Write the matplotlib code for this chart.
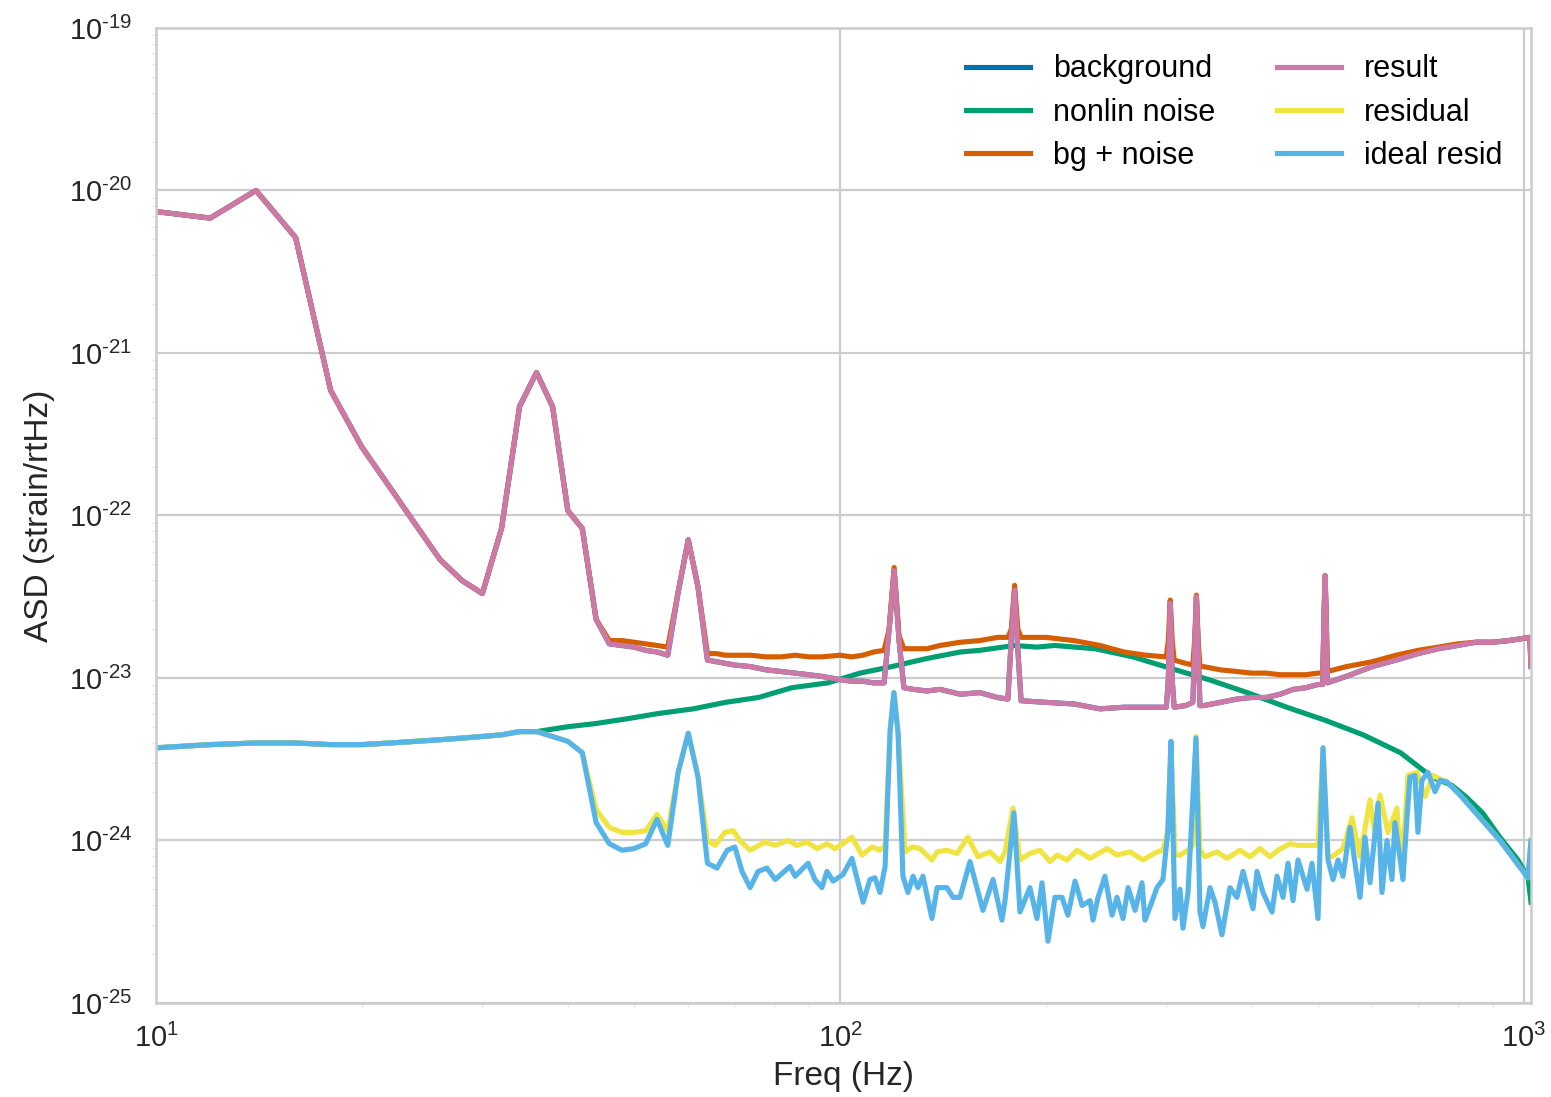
import numpy as np
import matplotlib
matplotlib.use("Agg")
import matplotlib.pyplot as plt
from matplotlib.ticker import FuncFormatter, NullFormatter, FixedLocator

plt.rcParams["font.family"] = ["Liberation Sans", "DejaVu Sans"]
plt.rcParams["axes.unicode_minus"] = False
plt.rcParams["mathtext.fontset"] = "custom"
plt.rcParams["mathtext.rm"] = "Liberation Sans"

# ASD values are stored as log10(strain/rtHz)
f_main = [10, 12, 14, 16, 18, 20, 22, 24, 26, 28,
          30, 32, 34, 36, 38, 40, 42, 44, 46, 48,
          50, 52, 54, 56, 58, 60, 62, 64, 66, 68,
          70, 74, 78, 82, 86, 90, 94, 100, 104, 108,
          112, 116, 118, 120, 122, 124, 128, 134, 140, 150,
          160, 170, 176, 178, 180, 182, 184, 200, 220, 240,
          260, 280, 300, 302, 304, 306, 308, 320, 328, 330,
          332, 334, 336, 340, 360, 380, 400, 420, 440, 460,
          480, 500, 508, 510, 512, 514, 516, 550, 600, 650,
          700, 750, 800, 850, 900, 950, 1020, 1024]

background_log = [-20.13, -20.17, -20.00, -20.29, -21.23, -21.58, -21.83, -22.06, -22.27, -22.40,
                  -22.48, -22.08, -21.33, -21.12, -21.33, -21.97, -22.08, -22.64, -22.79, -22.80,
                  -22.81, -22.83, -22.84, -22.86, -22.47, -22.15, -22.44, -22.89, -22.90, -22.91,
                  -22.92, -22.93, -22.95, -22.96, -22.97, -22.98, -22.99, -23.01, -23.02, -23.02,
                  -23.03, -23.03, -22.70, -22.34, -22.77, -23.06, -23.07, -23.08, -23.07, -23.10,
                  -23.09, -23.12, -23.13, -22.76, -22.46, -22.83, -23.14, -23.15, -23.16, -23.19,
                  -23.18, -23.18, -23.18, -23.01, -22.54, -23.01, -23.18, -23.17, -23.15, -22.83,
                  -22.50, -22.83, -23.17, -23.17, -23.15, -23.13, -23.12, -23.12, -23.10, -23.07,
                  -23.06, -23.04, -23.04, -22.64, -22.37, -22.64, -23.03, -22.99, -22.93, -22.89,
                  -22.85, -22.82, -22.80, -22.78, -22.78, -22.77, -22.75, -22.93]

result_log = list(background_log)

bg_noise_log = [-20.13, -20.17, -20.00, -20.29, -21.23, -21.58, -21.83, -22.06, -22.27, -22.40,
                -22.48, -22.08, -21.33, -21.12, -21.33, -21.97, -22.08, -22.64, -22.77, -22.77,
                -22.78, -22.79, -22.80, -22.81, -22.47, -22.15, -22.44, -22.85, -22.85, -22.86,
                -22.86, -22.86, -22.87, -22.87, -22.86, -22.87, -22.87, -22.86, -22.87, -22.86,
                -22.84, -22.83, -22.70, -22.32, -22.74, -22.82, -22.82, -22.82, -22.80, -22.78,
                -22.77, -22.75, -22.75, -22.70, -22.43, -22.70, -22.75, -22.75, -22.77, -22.80,
                -22.84, -22.86, -22.87, -22.77, -22.52, -22.77, -22.89, -22.91, -22.92, -22.77,
                -22.49, -22.77, -22.93, -22.93, -22.95, -22.96, -22.97, -22.97, -22.98, -22.98,
                -22.98, -22.97, -22.97, -22.64, -22.37, -22.64, -22.96, -22.93, -22.90, -22.86,
                -22.83, -22.81, -22.79, -22.78, -22.78, -22.77, -22.75, -22.91]

f_noise = [10, 12, 14, 16, 18, 20, 22, 24, 26, 28,
           30, 32, 34, 36, 40, 44, 49, 54, 61, 68,
           76, 85, 96, 107, 119, 134, 150, 160, 180, 194,
           206, 236, 268, 304, 346, 394, 450, 512, 582, 660,
           734, 784, 822, 870, 922, 980, 1014, 1024]
noise_log = [-23.43, -23.41, -23.40, -23.40, -23.41, -23.41, -23.40, -23.39, -23.38, -23.37,
             -23.36, -23.35, -23.33, -23.33, -23.30, -23.28, -23.25, -23.22, -23.19, -23.15,
             -23.12, -23.06, -23.03, -22.97, -22.93, -22.88, -22.84, -22.83, -22.80, -22.81,
             -22.80, -22.82, -22.87, -22.94, -23.01, -23.09, -23.18, -23.26, -23.35, -23.46,
             -23.61, -23.66, -23.73, -23.83, -23.98, -24.12, -24.23, -24.38]

f_resid = [10, 12, 14, 16, 18, 20, 22, 24, 26, 28,
           30, 32, 34, 36, 38, 40, 42, 44, 46, 48,
           50, 52, 54, 56, 58, 60, 62, 64, 65.7, 67.9,
           69.8, 71.4, 73.9, 77.7, 80.4, 83.9, 86.5, 89.5, 92.6, 95.7,
           98.3, 101.0, 104.1, 107.7, 111.4, 114.4, 116.4, 118.4, 119.9, 121.6,
           124.5, 127.5, 130.9, 136.3, 138.7, 143.3, 148.3, 153.8, 159.1, 165.7,
           171.4, 174.3, 179.0, 183.3, 189.5, 196.0, 202.8, 207.7, 214.8, 222.1,
           232.1, 245.7, 254.1, 265.5, 277.3, 290.7, 296.6, 301.6, 304.7, 308.9,
           314.1, 322.7, 328.2, 331.5, 336.0, 341.7, 355.8, 368.0, 384.4, 397.6,
           411.2, 425.3, 437.0, 455.0, 467.4, 486.7, 499.9, 508.4, 517.0, 524.1,
           543.8, 560.5, 575.8, 595.6, 605.7, 615.9, 632.7, 652.1, 658.7, 669.9,
           676.7, 697.5, 716.6, 736.2, 761.5, 771.8, 806.3, 862.4, 922.4, 976.8,
           1013.5, 1024]
resid_log = [-23.43, -23.41, -23.40, -23.40, -23.41, -23.41, -23.40, -23.39, -23.38, -23.37,
             -23.36, -23.35, -23.33, -23.33, -23.36, -23.39, -23.46, -23.81, -23.92, -23.95,
             -23.95, -23.94, -23.84, -23.94, -23.58, -23.34, -23.60, -24.00, -24.03, -23.95,
             -23.94, -24.00, -24.06, -24.01, -24.03, -24.00, -24.03, -24.01, -24.05, -24.02,
             -24.05, -24.02, -23.98, -24.09, -24.04, -24.06, -24.03, -23.32, -23.09, -23.34,
             -24.07, -24.04, -24.05, -24.12, -24.07, -24.06, -24.08, -23.98, -24.10, -24.07,
             -24.13, -24.07, -23.80, -24.12, -24.08, -24.06, -24.13, -24.09, -24.12, -24.06,
             -24.11, -24.05, -24.09, -24.07, -24.12, -24.07, -24.06, -23.94, -23.39, -24.09,
             -24.09, -24.06, -24.03, -23.36, -24.06, -24.10, -24.07, -24.11, -24.06, -24.10,
             -24.05, -24.10, -24.06, -24.02, -24.03, -24.03, -24.03, -23.43, -24.10, -24.10,
             -24.05, -23.86, -24.10, -23.75, -23.97, -23.72, -23.95, -23.80, -24.09, -23.89,
             -23.60, -23.58, -23.73, -23.60, -23.63, -23.64, -23.72, -23.86, -24.00, -24.14,
             -24.23, -24.00]

f_ideal = [10, 12, 14, 16, 18, 20, 22, 24, 26, 28,
           30, 32, 34, 36, 38, 40, 42, 44, 46, 48,
           50, 52, 54, 56, 58, 60, 62, 64, 66.1, 68.4,
           70.2, 71.9, 73.9, 75.9, 78.2, 80.4, 84.5, 86.0, 89.8, 91.9,
           94.1, 95.7, 97.7, 101.0, 104.1, 108.1, 110.6, 112.5, 114.4, 116.4,
           118.4, 119.9, 121.6, 123.6, 125.7, 127.9, 130.0, 132.2, 136.3, 138.7,
           143.3, 146.3, 149.8, 154.9, 161.8, 167.4, 172.5, 174.3, 179.6, 183.3,
           189.5, 194.1, 197.4, 201.4, 206.2, 211.2, 215.4, 220.6, 225.9, 232.1,
           234.4, 238.4, 244.0, 249.9, 254.1, 259.3, 263.8, 270.0, 276.4, 279.2,
           283.9, 290.7, 296.6, 301.6, 304.7, 308.9, 314.1, 317.3, 322.7, 331.5,
           336.0, 339.4, 347.5, 353.4, 361.8, 371.7, 380.5, 388.3, 397.6, 401.7,
           407.1, 415.4, 428.2, 435.5, 444.4, 451.9, 459.6, 467.4, 481.8, 489.9,
           499.9, 508.4, 517.0, 525.9, 534.8, 543.8, 556.8, 566.2, 575.8, 585.6,
           595.6, 611.8, 620.1, 630.6, 641.2, 647.7, 665.4, 674.5, 681.3, 692.8,
           699.8, 709.4, 723.8, 741.2, 753.8, 771.8, 806.3, 862.4, 922.4, 976.8,
           1013.5, 1024]
ideal_log = [-23.43, -23.41, -23.40, -23.40, -23.41, -23.41, -23.40, -23.39, -23.38, -23.37,
             -23.36, -23.35, -23.33, -23.33, -23.36, -23.39, -23.46, -23.89, -24.02, -24.06,
             -24.05, -24.02, -23.87, -24.03, -23.58, -23.34, -23.61, -24.14, -24.17, -24.06,
             -24.04, -24.19, -24.29, -24.19, -24.17, -24.24, -24.16, -24.22, -24.14, -24.24,
             -24.29, -24.19, -24.25, -24.21, -24.11, -24.38, -24.24, -24.23, -24.32, -24.16,
             -23.32, -23.09, -23.34, -24.22, -24.32, -24.22, -24.29, -24.22, -24.48, -24.29,
             -24.29, -24.35, -24.35, -24.13, -24.43, -24.24, -24.49, -24.37, -23.83, -24.44,
             -24.29, -24.48, -24.26, -24.62, -24.35, -24.35, -24.46, -24.25, -24.40, -24.37,
             -24.49, -24.35, -24.22, -24.46, -24.35, -24.48, -24.29, -24.43, -24.26, -24.49,
             -24.41, -24.29, -24.24, -23.94, -23.39, -24.48, -24.30, -24.54, -24.32, -23.37,
             -24.44, -24.53, -24.29, -24.38, -24.58, -24.29, -24.35, -24.19, -24.35, -24.42,
             -24.19, -24.32, -24.44, -24.22, -24.35, -24.14, -24.37, -24.12, -24.30, -24.14,
             -24.48, -23.43, -24.12, -24.24, -24.12, -24.22, -23.92, -24.14, -24.35, -23.98,
             -24.26, -23.77, -24.32, -24.00, -24.24, -23.89, -24.24, -23.86, -23.61, -23.60,
             -23.95, -23.63, -23.58, -23.70, -23.63, -23.64, -23.72, -23.86, -24.00, -24.14,
             -24.23, -24.00]

x_ticks = [10, 100, 1000]
y_ticks = [1e-25, 1e-24, 1e-23, 1e-22, 1e-21, 1e-20, 1e-19]

colors = ["#0072B2", "#009E73", "#D55E00", "#CC79A7", "#F0E442", "#56B4E9"]
series = [
    ("background", f_main, background_log),
    ("nonlin noise", f_noise, noise_log),
    ("bg + noise", f_main, bg_noise_log),
    ("result", f_main, result_log),
    ("residual", f_resid, resid_log),
    ("ideal resid", f_ideal, ideal_log),
]

fig = plt.figure(figsize=(15.51, 10.97), dpi=100)
ax = fig.add_axes([0.1006, 0.0857, 0.8865, 0.8888])

for (label, f, vals), c in zip(series, colors):
    assert len(f) == len(vals), label
    ax.loglog(f, 10.0 ** np.array(vals), color=c, lw=3.7, label=label)

ax.set_xlim(10, 1024)
ax.set_ylim(1e-25, 1e-19)
ax.grid(True, which="major", color="#cccccc", lw=1.6)
for sp in ax.spines.values():
    sp.set_color("#cccccc")
    sp.set_linewidth(1.8)


def pow10(v, pos):
    e = int(round(np.log10(v)))
    return r"$10^{\text{%d}}$" % e


ax.xaxis.set_major_locator(FixedLocator(x_ticks))
ax.yaxis.set_major_locator(FixedLocator(y_ticks))
ax.xaxis.set_major_formatter(FuncFormatter(pow10))
ax.yaxis.set_major_formatter(FuncFormatter(pow10))
ax.xaxis.set_minor_formatter(NullFormatter())
ax.yaxis.set_minor_formatter(NullFormatter())
ax.tick_params(which="major", length=0, labelsize=21, labelcolor="#262626")
ax.tick_params(axis="y", which="major", pad=17)
ax.tick_params(axis="x", which="major", pad=15)
ax.tick_params(which="minor", length=3, color="#dddddd")
ax.set_xlabel("Freq (Hz)", fontsize=24, color="#262626", labelpad=6)
ax.set_ylabel("ASD (strain/rtHz)", fontsize=24, color="#262626", labelpad=10)

ax.legend(loc="upper right", ncol=2, frameon=False, fontsize=22,
          handlelength=2.1, handletextpad=0.75, labelspacing=0.44,
          columnspacing=2.0, borderpad=0, borderaxespad=0,
          bbox_to_anchor=(0.979, 0.973))

fig.savefig("out.png", dpi=100)
